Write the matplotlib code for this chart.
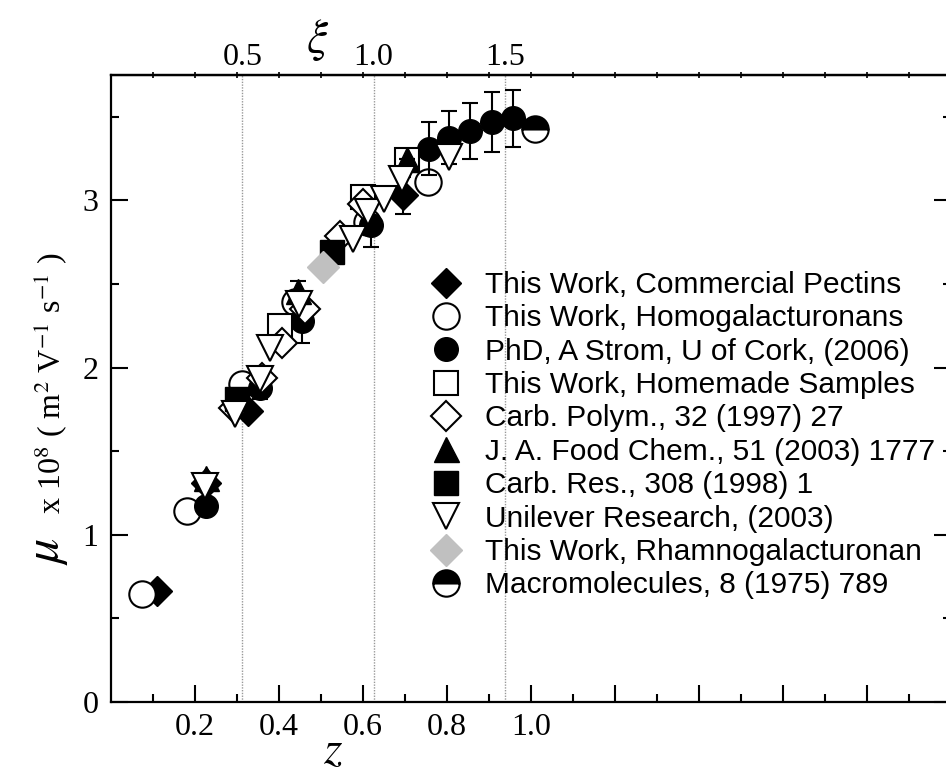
import numpy as np
import matplotlib
matplotlib.use("Agg")
import matplotlib.pyplot as plt

plt.rcParams['font.family'] = ['Liberation Serif', 'DejaVu Serif']
plt.rcParams['mathtext.fontset'] = 'stix'

W, H = 946, 772

# ξ = XI_PER_Z * z
XI_PER_Z = 1.6
xi_lines = [0.5, 1.0, 1.5]

# data: z and mobility (1e-8 m^2/Vs)
pect_z = [0.109, 0.225, 0.327, 0.696]
pect_mu = [0.665, 1.31, 1.74, 3.03]
pect_err = [0.0, 0.0, 0.0, 0.11]

homo_z = [0.073, 0.182, 0.311, 0.438, 0.609, 0.755]
homo_mu = [0.645, 1.14, 1.90, 2.39, 2.87, 3.11]

strom_z = [0.226, 0.355, 0.454, 0.620, 0.757, 0.805, 0.855, 0.906, 0.957]
strom_mu = [1.17, 1.88, 2.28, 2.85, 3.31, 3.375, 3.415, 3.47, 3.49]
strom_err = [0.0, 0.07, 0.13, 0.13, 0.16, 0.16, 0.17, 0.18, 0.17]

home_z = [0.402, 0.600, 0.704]
home_mu = [2.25, 3.02, 3.24]

cpol_z = [0.293, 0.359, 0.406, 0.462, 0.545, 0.600]
cpol_mu = [1.76, 1.94, 2.15, 2.35, 2.79, 2.98]

jafc_z = [0.225, 0.446, 0.704]
jafc_mu = [1.34, 2.46, 3.25]
jafc_err = [0.0, 0.06, 0.0]

cres_z = [0.299, 0.525]
cres_mu = [1.81, 2.69]

unil_z = [0.224, 0.295, 0.355, 0.379, 0.448, 0.577, 0.613, 0.649, 0.692, 0.805]
unil_mu = [1.29, 1.72, 1.93, 2.12, 2.38, 2.77, 2.93, 3.01, 3.13, 3.26]

rham_z = [0.504]
rham_mu = [2.60]

macro_z = [1.01]
macro_mu = [3.43]

labels = ["This Work, Commercial Pectins", "This Work, Homogalacturonans",
          "PhD, A Strom, U of Cork, (2006)", "This Work, Homemade Samples",
          "Carb. Polym., 32 (1997) 27", "J. A. Food Chem., 51 (2003) 1777",
          "Carb. Res., 308 (1998) 1", "Unilever Research, (2003)",
          "This Work, Rhamnogalacturonan", "Macromolecules, 8 (1975) 789"]


def px(x, y):
    return x / W, 1 - y / H


fig = plt.figure(figsize=(W / 100, H / 100), dpi=100)
ax = fig.add_axes([111 / W, 70 / H, 840 / W, 627 / H])

ew = 1.5
cap = 5.5
for xv in xi_lines:
    ax.axvline(xv / XI_PER_Z, color='#999999', ls=(0, (1, 1)), lw=1.0, zorder=0)

# horizontal bar on the lowest pectin point
ax.errorbar(pect_z[:1], pect_mu[:1], xerr=[[0.04], [0]], fmt='none',
            ecolor='k', elinewidth=2, capsize=0, zorder=3)
ax.errorbar(pect_z, pect_mu, yerr=pect_err, fmt='none', ecolor='k',
            elinewidth=ew, capsize=cap, capthick=ew, zorder=3)
ax.plot(pect_z, pect_mu, 'D', ms=15, mfc='k', mec='k', label=labels[0], zorder=3)
ax.plot(homo_z, homo_mu, 'o', ms=19, mfc='w', mec='k', mew=1.5, label=labels[1], zorder=3)
ax.errorbar(strom_z, strom_mu, yerr=strom_err, fmt='none', ecolor='k',
            elinewidth=ew, capsize=cap, capthick=ew, zorder=3)
ax.plot(strom_z, strom_mu, 'o', ms=17, mfc='k', mec='k', label=labels[2], zorder=3)
ax.plot(home_z, home_mu, 's', ms=17, mfc='w', mec='k', mew=1.5, label=labels[3], zorder=3)
ax.plot(cpol_z, cpol_mu, 'D', ms=15, mfc='w', mec='k', mew=1.5, label=labels[4], zorder=3)
ax.errorbar(jafc_z, jafc_mu, yerr=jafc_err, fmt='none', ecolor='k',
            elinewidth=ew, capsize=cap, capthick=ew, zorder=3)
ax.plot(jafc_z, jafc_mu, '^', ms=18, mfc='k', mec='k', label=labels[5], zorder=3)
ax.plot(cres_z, cres_mu, 's', ms=17, mfc='k', mec='k', label=labels[6], zorder=3)
ax.plot(unil_z, unil_mu, 'v', ms=19, mfc='w', mec='k', mew=1.5, label=labels[7], zorder=3)
ax.plot(rham_z, rham_mu, 'D', ms=16, mfc='#c0c0c0', mec='#c0c0c0', label=labels[8], zorder=3)
ax.plot(macro_z, macro_mu, 'o', ms=19, fillstyle='top', mfc='k', mfcalt='w',
        mec='k', mew=1.5, label=labels[9], zorder=3)

ax.set_xlim(0, 2.0)
ax.set_ylim(0, 3.75)
ax.set_xticks(np.arange(0.2, 2.0, 0.2))
ax.set_xticklabels(['0.2', '0.4', '0.6', '0.8', '1.0'] + [''] * 4)
ax.set_xticks(np.arange(0.1, 2.0, 0.2), minor=True)
ax.set_yticks([0, 1, 2, 3])
ax.set_yticks([0.5, 1.5, 2.5, 3.5], minor=True)
ax.tick_params(which='major', direction='in', length=12, width=1.5,
               labelsize=23, top=False, right=True, pad=8)
ax.tick_params(which='minor', direction='in', length=6, width=1.5,
               top=False, right=True)
ax.tick_params(axis='y', pad=9)
for s in ax.spines.values():
    s.set_linewidth(1.6)

# small marks along the top edge
top_marks = ax.secondary_xaxis('top')
top_marks.set_xticks(np.arange(0.1, 2.0, 0.1))
top_marks.tick_params(direction='inout', length=5, width=1.2, labeltop=False)
top_marks.spines['top'].set_linewidth(1.6)

# ξ scale on top
xi_ax = ax.secondary_xaxis('top', functions=(lambda z: z * XI_PER_Z,
                                             lambda xi: xi / XI_PER_Z))
xi_ax.set_xticks(xi_lines, labels=['0.5', '1.0', '1.5'])
xi_ax.tick_params(length=0, pad=2, labelsize=23)

fig.text(*px(318, 40), r'$\xi$', fontsize=34, ha='center', va='center')
fig.text(*px(333, 752), r'$z$', fontsize=34, ha='center', va='center')

fig.text(*px(58, 565), r'$\mu$', fontsize=36, rotation=90,
         rotation_mode='anchor', ha='left', va='baseline')
fig.text(*px(60, 514), r'x 10$^8$ ( m$^2$ V$^{-1}$ s$^{-1}$ )', fontsize=23,
         rotation=90, rotation_mode='anchor', ha='left', va='baseline')

ax.legend(loc='upper left', bbox_to_anchor=px(428, 271), bbox_transform=fig.transFigure,
          frameon=False, prop={'family': 'Liberation Sans', 'size': 21.5},
          handlelength=1.2, handletextpad=0.72, labelspacing=0.18, borderpad=0,
          borderaxespad=0)

fig.savefig('out.png', dpi=100)
